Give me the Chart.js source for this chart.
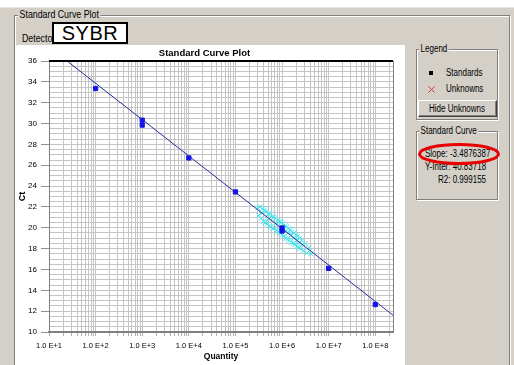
<!DOCTYPE html>
<html>
<head>
<meta charset="utf-8">
<script src="https://cdn.jsdelivr.net/npm/chart.js@4/dist/chart.umd.min.js"></script>
<style>
  html, body { margin: 0; padding: 0; }
  body {
    width: 514px; height: 365px; overflow: hidden; position: relative;
    background: #d4d0c8;
    font-family: 'Liberation Sans', Arial, sans-serif;
    color: #000;
  }
  .abs { position: absolute; }
  .squeeze { transform: scaleX(0.8); transform-origin: 0 0; white-space: nowrap; }
  #topStrip { left: 0; top: 0; width: 514px; height: 7px; background: #fff; border-bottom: 1px solid #e8e6e0; }
  .group {
    position: absolute; box-sizing: border-box;
    border: 1px solid #808080;
    box-shadow: inset 1px 1px 0 #fff, 1px 1px 0 #fff;
  }
  .groupTitle { position: absolute; background: #d4d0c8; padding: 0 2px; }
  #mainGroup { left: 14px; top: 15px; width: 496px; height: 360px; }
  #mainTitle { left: 18px; top: 8px; font-size: 11px; }
  #detector { left: 22px; top: 32px; font-size: 11px; }
  #sybr {
    left: 52px; top: 22px; width: 76px; height: 22px; box-sizing: border-box;
    background: #fff; border: 2px solid #000;
    font-size: 20px; line-height: 18px;
    text-align: center; letter-spacing: 0.5px;
  }
  #plotBox { left: 16px; top: 45px; width: 389px; height: 320px; background: #fff; }
  #legendGroup { left: 416px; top: 49px; width: 82px; height: 71px; }
  #legendTitle { left: 419px; top: 43px; font-size: 10px; }
  .legendText { font-size: 10px; left: 446px; }
  #stdMark { left: 429px; top: 71px; width: 4px; height: 4px; background: #000; }
  #unkMark { left: 428px; top: 86px; width: 7px; height: 7px; }
  #hideBtn {
    left: 418px; top: 100px; width: 79px; height: 17px; box-sizing: border-box;
    background: #d4d0c8; font-size: 10px; line-height: 15px; text-align: center;
    border-top: 1px solid #fff; border-left: 1px solid #fff;
    border-right: 1px solid #404040; border-bottom: 1px solid #404040;
    box-shadow: inset -1px -1px 0 #808080;
  }
  #hideBtn span { display: inline-block; transform: scaleX(0.8); }
  #curveGroup { left: 416px; top: 131px; width: 82px; height: 69px; }
  #curveTitle { left: 419px; top: 125px; font-size: 10px; }
  .curveText { font-size: 10px; }
  #ring { left: 418px; top: 143px; width: 82px; height: 22px; }
</style>
</head>
<body>
<div id="topStrip" class="abs"></div>
<div id="mainGroup" class="group"></div>
<div id="mainTitle" class="groupTitle squeeze">Standard Curve Plot</div>
<div id="detector" class="abs squeeze">Detector</div>
<div id="sybr" class="abs">SYBR</div>

<div id="plotBox" class="abs"><canvas id="chart" width="389" height="320"></canvas></div>

<div id="legendGroup" class="group"></div>
<div id="legendTitle" class="groupTitle squeeze">Legend</div>
<div id="stdMark" class="abs"></div>
<div class="abs legendText squeeze" style="top:67px">Standards</div>
<svg id="unkMark" class="abs" viewBox="0 0 7 7"><path d="M0.5 0.5L6.5 6.5M6.5 0.5L0.5 6.5" stroke="#e03030" stroke-width="1"/></svg>
<div class="abs legendText squeeze" style="top:83px">Unknowns</div>
<div id="hideBtn" class="abs"><span>Hide Unknowns</span></div>

<div id="curveGroup" class="group"></div>
<div id="curveTitle" class="groupTitle squeeze">Standard Curve</div>
<div id="slopeText" class="abs curveText squeeze" style="left:425px; top:148px"></div>
<div id="interText" class="abs curveText squeeze" style="left:425px; top:161px"></div>
<div id="r2Text" class="abs curveText squeeze" style="left:438px; top:174px"></div>
<svg id="ring" class="abs" viewBox="0 0 82 22"><ellipse cx="41" cy="11" rx="39.5" ry="9.5" fill="none" stroke="#e80000" stroke-width="3"/></svg>

<script>
// Standard dilution series: quantity and measured threshold cycle
const standardQuantities = [1e2, 1e3, 1e3, 1e4, 1e5, 1e6, 1e6, 1e7, 1e8];
const standardCt = [33.36, 30.32, 29.85, 26.70, 23.44, 19.98, 19.69, 16.11, 12.63];

// Unknown samples placed on the curve
const unknownQuantities = [
  3.02e5, 3.16e5, 3.39e5, 3.55e5, 3.72e5, 3.80e5, 3.98e5, 4.17e5, 4.37e5, 4.57e5,
  4.79e5, 5.01e5, 5.13e5, 5.25e5, 5.50e5, 5.75e5, 6.03e5, 6.31e5, 6.61e5, 6.92e5,
  7.24e5, 7.41e5, 7.59e5, 7.94e5, 8.32e5, 8.71e5, 9.12e5, 9.55e5, 1.00e6, 1.02e6,
  1.05e6, 1.10e6, 1.15e6, 1.17e6, 1.20e6, 1.26e6, 1.32e6, 1.35e6, 1.38e6, 1.45e6,
  1.51e6, 1.55e6, 1.58e6, 1.66e6, 1.74e6, 1.78e6, 1.82e6, 1.91e6, 2.00e6, 2.04e6,
  2.09e6, 2.19e6, 2.29e6, 2.34e6, 2.40e6, 2.51e6, 2.69e6, 2.75e6, 2.88e6, 3.16e6,
  3.47e6, 3.80e6, 4.17e6
];
const unknownCt = [
  21.9, 21.2, 22.0, 20.9, 21.4, 21.8, 20.6, 21.7, 20.5, 21.6,
  20.4, 21.3, 20.9, 20.2, 21.4, 20.1, 21.1, 19.9, 21.0, 20.0,
  20.9, 20.4, 19.7, 20.7, 19.6, 20.6, 19.5, 20.5, 19.3, 19.9,
  20.4, 19.2, 20.2, 19.7, 19.0, 20.1, 18.9, 19.5, 19.9, 18.8,
  19.8, 19.3, 18.6, 19.6, 18.5, 19.0, 19.5, 18.4, 19.3, 18.8,
  18.2, 19.2, 18.1, 18.6, 19.0, 18.0, 18.8, 18.4, 17.8, 18.5,
  17.6, 18.1, 17.5
];

// Regression of the standard curve
const slope = -3.4876387;
const yIntercept = 40.83718;
const r2 = 0.999155;

// Axis ranges and labels
const xMin = 10, xMax = 2.4e8;
const yMin = 10, yMax = 36;
const xTickValues = [1e1, 1e2, 1e3, 1e4, 1e5, 1e6, 1e7, 1e8];
const xTickLabels = ['1.0 E+1', '1.0 E+2', '1.0 E+3', '1.0 E+4', '1.0 E+5', '1.0 E+6', '1.0 E+7', '1.0 E+8'];

document.getElementById('slopeText').textContent = 'Slope: ' + slope.toFixed(7);
document.getElementById('interText').textContent = 'Y-Inter: ' + yIntercept.toFixed(5);
document.getElementById('r2Text').textContent = 'R2: ' + r2.toFixed(6);

const face = "'Liberation Sans', Arial, sans-serif";

const pairs = (xs, ys) => xs.map((x, i) => ({ x, y: ys[i] }));
const curveAt = q => slope * Math.log10(q) + yIntercept;

// Box around the plotting area: black top edge, grey right edge
const frame = {
  id: 'frame',
  afterDraw(chart) {
    const { ctx, chartArea: a } = chart;
    ctx.save();
    ctx.strokeStyle = '#000';
    ctx.lineWidth = 2;
    ctx.beginPath(); ctx.moveTo(a.left, a.top); ctx.lineTo(a.right, a.top); ctx.stroke();
    ctx.strokeStyle = '#808080';
    ctx.lineWidth = 1;
    ctx.beginPath(); ctx.moveTo(a.right + 0.5, a.top); ctx.lineTo(a.right + 0.5, a.bottom); ctx.stroke();
    ctx.restore();
  }
};

new Chart(document.getElementById('chart'), {
  type: 'scatter',
  data: {
    datasets: [
      {
        label: 'Standards',
        data: pairs(standardQuantities, standardCt),
        pointStyle: 'rect', pointRadius: 3, borderWidth: 1,
        backgroundColor: '#1414e6', borderColor: '#1414e6'
      },
      {
        label: 'Standard Curve',
        data: [{ x: xMin, y: curveAt(xMin) }, { x: xMax, y: curveAt(xMax) }],
        showLine: true, pointRadius: 0, borderWidth: 1,
        borderColor: '#2c2ca0', backgroundColor: '#2c2ca0'
      },
      {
        label: 'Unknowns',
        data: pairs(unknownQuantities, unknownCt),
        pointStyle: 'crossRot', pointRadius: 3.5, borderWidth: 1,
        borderColor: '#3ee6ee', backgroundColor: '#3ee6ee'
      }
    ]
  },
  options: {
    responsive: false,
    animation: false,
    events: [],
    layout: { padding: { left: 0, right: 12, top: 0, bottom: 0 } },
    plugins: {
      legend: { display: false },
      tooltip: { enabled: false },
      title: {
        display: true, text: 'Standard Curve Plot', color: '#000',
        font: { family: face, size: 9.5, weight: 'bold', lineHeight: 1 },
        padding: { top: 4, bottom: 2.5 }
      }
    },
    scales: {
      x: {
        type: 'logarithmic', min: xMin, max: xMax,
        afterBuildTicks(scale) {
          const ticks = [];
          for (const base of xTickValues) {
            for (let m = 1; m <= 9; m++) {
              const v = m * base;
              if (v >= xMin && v <= xMax) ticks.push({ value: v });
            }
          }
          scale.ticks = ticks;
        },
        afterFit(scale) { scale.height = 33; },
        ticks: {
          autoSkip: false, maxRotation: 0, minRotation: 0, padding: 5, color: '#000',
          font: { family: face, size: 7.5 },
          callback(value) {
            const i = xTickValues.indexOf(value);
            return i >= 0 ? xTickLabels[i] : '';
          }
        },
        grid: { color: '#c4c4c4', tickLength: 4, tickColor: '#b0b0b0' },
        border: { display: true, color: '#808080', width: 2 },
        title: {
          display: true, text: 'Quantity', color: '#000',
          font: { family: face, size: 8.5, weight: 'bold', lineHeight: 1.2 },
          padding: { top: 0, bottom: 3 }
        }
      },
      y: {
        type: 'linear', min: yMin, max: yMax,
        afterFit(scale) { scale.width = 33; },
        ticks: {
          stepSize: 0.5, autoSkip: false, padding: 4, color: '#000',
          font: { family: face, size: 8 },
          callback(value) { return value % 2 === 0 ? String(value) : ''; }
        },
        grid: {
          color: '#c4c4c4', tickLength: 8,
          tickColor(ctx) { return ctx.tick && ctx.tick.value % 2 === 0 ? '#909090' : 'rgba(0,0,0,0)'; }
        },
        border: { display: true, color: '#808080', width: 1 },
        title: {
          display: true, text: 'Ct', color: '#000',
          font: { family: face, size: 9, weight: 'bold', lineHeight: 1.2 },
          padding: { top: 1, bottom: 0 }
        }
      }
    }
  },
  plugins: [frame]
});
</script>
</body>
</html>
